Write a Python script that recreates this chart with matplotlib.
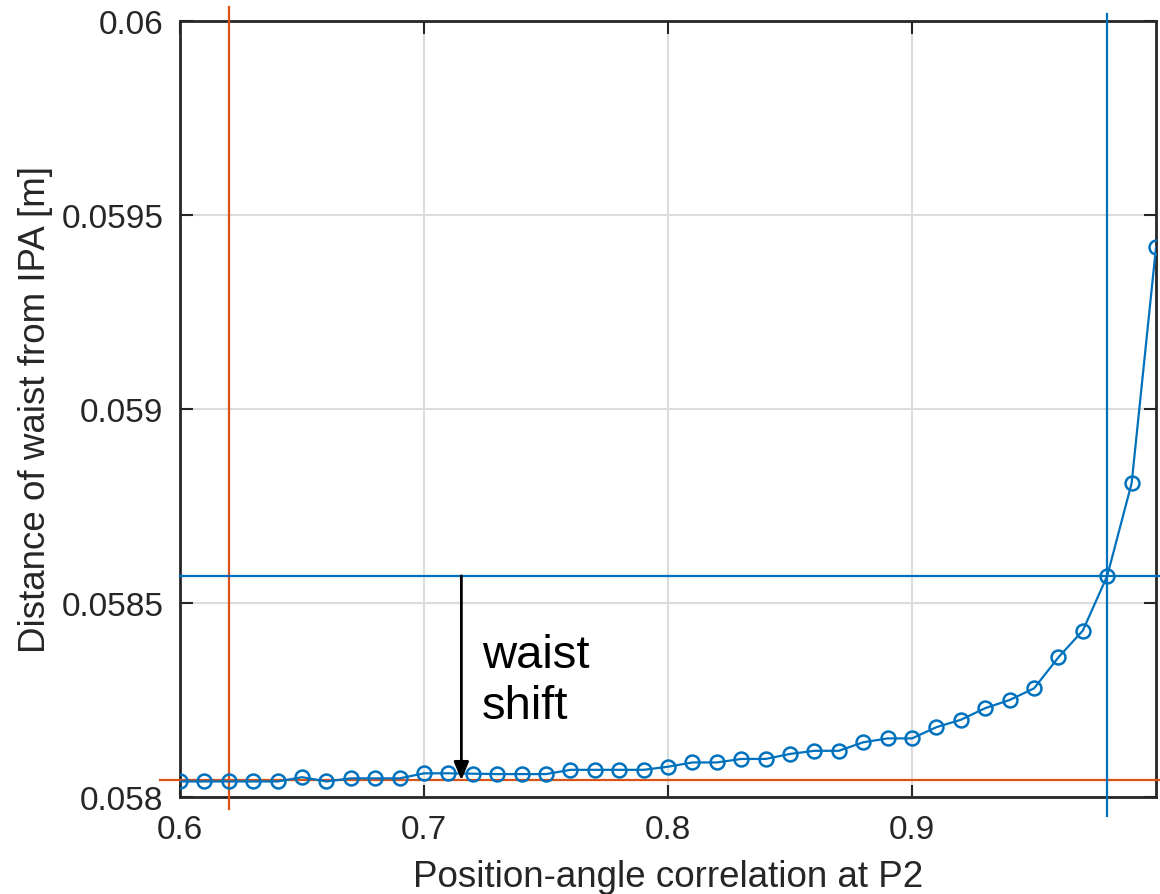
"""Waist distance vs position-angle correlation"""
import numpy as np
import matplotlib
matplotlib.use("Agg")
import matplotlib.pyplot as plt

plt.rcParams["font.family"] = ["Liberation Sans", "DejaVu Sans"]

# data
corr = [0.60, 0.61, 0.62, 0.63, 0.64, 0.65, 0.66, 0.67, 0.68, 0.69,
        0.70, 0.71, 0.72, 0.73, 0.74, 0.75, 0.76, 0.77, 0.78, 0.79,
        0.80, 0.81, 0.82, 0.83, 0.84, 0.85, 0.86, 0.87, 0.88, 0.89,
        0.90, 0.91, 0.92, 0.93, 0.94, 0.95, 0.96, 0.97, 0.98, 0.99, 1.00]
waist = [0.058040, 0.058040, 0.058040, 0.058040, 0.058040, 0.058051,
         0.058040, 0.058048, 0.058048, 0.058048, 0.058061, 0.058061,
         0.058060, 0.058059, 0.058059, 0.058059, 0.058070, 0.058070,
         0.058070, 0.058070, 0.058078, 0.058089, 0.058089, 0.058098,
         0.058098, 0.058111, 0.058119, 0.058119, 0.058141, 0.058151,
         0.058151, 0.058180, 0.058199, 0.058229, 0.058250, 0.058280,
         0.058360, 0.058429, 0.058570, 0.058809, 0.059418]

# reference markers
corr_low, waist_low = 0.62, 0.058043
corr_high, waist_high = 0.98, 0.058570
arrow_x = 0.7153

x_ticks = [0.6, 0.7, 0.8, 0.9]
y_ticks = [0.058, 0.0585, 0.059, 0.0595, 0.06]
y_tick_labels = ["0.058", "0.0585", "0.059", "0.0595", "0.06"]

BLUE = "#0072BD"
ORANGE = "#D95319"

fig = plt.figure(figsize=(11.6, 8.95), dpi=100)
ax = fig.add_axes([0.1552, 0.1084, 0.8414, 0.867])

ax.plot(corr, waist, "-o", color=BLUE, lw=1.6, ms=10, mfc="none",
        mew=1.8, zorder=4)

# reference lines (drawn a bit past the box, as in the original)
ax.plot([0.5918, 1.0016], [waist_low, waist_low], color=ORANGE, lw=1.6,
        clip_on=False, zorder=3)
ax.plot([corr_low, corr_low], [0.05797, 0.060036], color=ORANGE, lw=1.6,
        clip_on=False, zorder=3)
ax.plot([0.6, 1.0016], [waist_high, waist_high], color=BLUE, lw=1.6,
        clip_on=False, zorder=3)
ax.plot([corr_high, corr_high], [0.05795, 0.060018], color=BLUE, lw=1.6,
        clip_on=False, zorder=3)

ax.annotate("", xy=(arrow_x, waist_low), xytext=(arrow_x, waist_high),
            arrowprops=dict(arrowstyle="-|>,head_length=1.1,head_width=0.45",
                            color="black", lw=2, shrinkA=0, shrinkB=0),
            zorder=5)
ax.text(0.7237, 0.05830, "waist\nshift", fontsize=34, color="black",
        va="center", ha="left", linespacing=1.2)

ax.set_xlim(0.6, 1.0)
ax.set_ylim(0.058, 0.06)
ax.set_xticks(x_ticks)
ax.set_xticklabels([f"{t:g}" for t in x_ticks])
ax.set_yticks(y_ticks)
ax.set_yticklabels(y_tick_labels)
ax.grid(True, color="#dcdcdc", lw=1.5)
ax.set_axisbelow(True)

ax.tick_params(direction="in", length=9, width=1.5, colors="#262626",
               labelsize=24, top=True, right=True, pad=12)
for s in ax.spines.values():
    s.set_color("#262626")
    s.set_linewidth(2)

ax.set_xlabel("Position-angle correlation at P2", fontsize=26.5,
              color="#262626", labelpad=10)
ax.set_ylabel("Distance of waist from IPA [m]", fontsize=26.5,
              color="#262626", labelpad=6)

fig.savefig("out.png", dpi=100)
plt.close(fig)
